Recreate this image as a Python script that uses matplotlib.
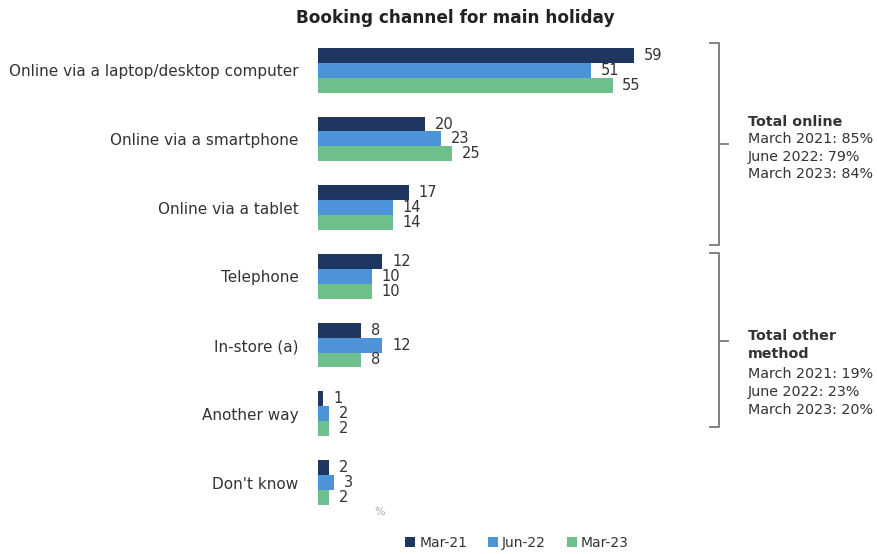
import matplotlib
matplotlib.use("Agg")
import matplotlib.pyplot as plt
import numpy as np
from matplotlib.lines import Line2D

categories = ["Online via a laptop/desktop computer", "Online via a smartphone",
              "Online via a tablet", "Telephone", "In-store (a)", "Another way", "Don't know"]
series_names = ["Mar-21", "Jun-22", "Mar-23"]
mar21 = [59, 20, 17, 12, 8, 1, 2]
jun22 = [51, 23, 14, 10, 12, 2, 3]
mar23 = [55, 25, 14, 10, 8, 2, 2]
colors = ["#1E3660", "#4C93D8", "#6FBF8D"]

online_title = "Total online"
online_lines = ["March 2021: 85%", "June 2022: 79%", "March 2023: 84%"]
other_title = ["Total other", "method"]
other_lines = ["March 2021: 19%", "June 2022: 23%", "March 2023: 20%"]

W, H = 877, 554
fig = plt.figure(figsize=(W / 100, H / 100), dpi=100)
plt.rcParams['font.family'] = ['DejaVu Sans']

def fx(px):
    return px / W

def fy(py):
    return 1 - py / H

ax_left, ax_right, ax_top, ax_bot = 318, 700, 40, 510
ax = fig.add_axes([fx(ax_left), fy(ax_bot), fx(ax_right - ax_left), (ax_bot - ax_top) / H])

y = np.arange(len(categories))
bh = 0.217
txtc = "#333333"
for i, (vals, c, name) in enumerate(zip([mar21, jun22, mar23], colors, series_names)):
    pos = y + (i - 1) * bh
    ax.barh(pos, vals, height=bh, color=c, label=name)
    for p, v in zip(pos, vals):
        ax.annotate(str(v), (v, p), xytext=(7, 0), textcoords="offset points",
                    va="center", ha="left", fontsize=10.5, color=txtc)

ax.set_xlim(0, (ax_right - ax_left) / ((634 - 318) / 59))
ax.set_ylim(6.4, -0.44)
ax.set_yticks(y)
ax.set_yticklabels(categories, fontsize=11, color=txtc)
ax.tick_params(axis="y", length=0, pad=14)
ax.set_xticks([])
for s in ax.spines.values():
    s.set_visible(False)

fig.text(fx(455), fy(18), "Booking channel for main holiday", ha="center", va="center",
         fontsize=12.2, fontweight="bold", color="#222222")
fig.text(fx(380), fy(512), "%", ha="center", va="center", fontsize=8, color="#aaaaaa")

# brackets
bc = "#777777"
def bracket(top, bot, mid):
    x = 719
    fig.add_artist(Line2D([fx(710), fx(x), fx(x), fx(710)], [fy(top), fy(top), fy(bot), fy(bot)],
                          color=bc, lw=1.3))
    fig.add_artist(Line2D([fx(x), fx(728)], [fy(mid), fy(mid)], color=bc, lw=1.3))

bracket(43, 245, 144)
bracket(253, 427, 341)

fs = 10.3
fig.text(fx(748), fy(122), online_title, fontsize=fs, fontweight="bold", color=txtc, va="center")
for k, t in enumerate(online_lines):
    fig.text(fx(748), fy(139 + 17.5 * k), t, fontsize=fs, color=txtc, va="center")
fig.text(fx(748), fy(336), other_title[0], fontsize=fs, fontweight="bold", color=txtc, va="center")
fig.text(fx(748), fy(354), other_title[1], fontsize=fs, fontweight="bold", color=txtc, va="center")
for k, t in enumerate(other_lines):
    fig.text(fx(748), fy(374 + 18 * k), t, fontsize=fs, color=txtc, va="center")

leg = fig.legend(loc="center", bbox_to_anchor=(fx(517), fy(543)), ncol=3, frameon=False,
                 handlelength=0.7, handleheight=0.7, handletextpad=0.3, columnspacing=1.5,
                 fontsize=10)
for t in leg.get_texts():
    t.set_color(txtc)

fig.savefig("out.png", dpi=100)
